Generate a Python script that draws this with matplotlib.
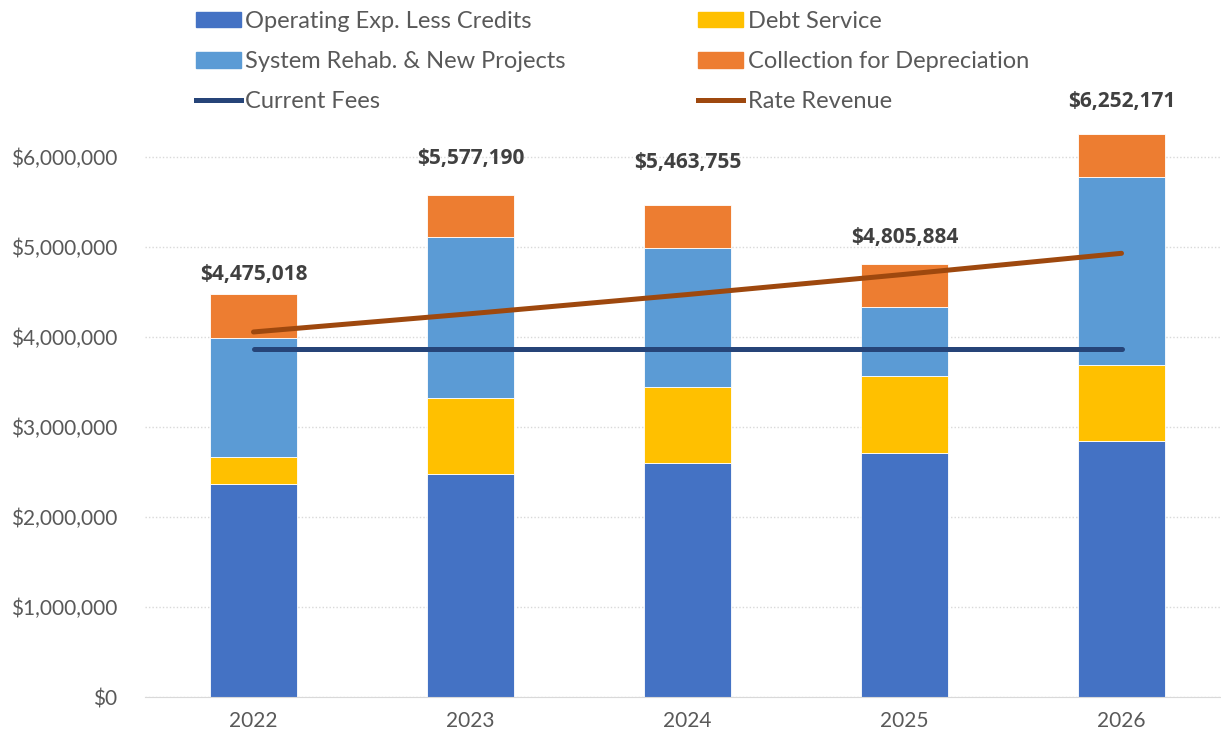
import matplotlib.pyplot as plt
from matplotlib.ticker import FuncFormatter
from matplotlib.patches import Patch
from matplotlib.lines import Line2D

years = ["2022", "2023", "2024", "2025", "2026"]
operating = [2367000, 2478000, 2600000, 2711000, 2844000]
debt = [300000, 844000, 844000, 856000, 845000]
rehab = [1323000, 1789000, 1545000, 766000, 2089000]
depreciation = [485018, 466190, 474755, 472884, 474171]
current_fees = [3862000, 3862000, 3862000, 3862000, 3862000]
rate_revenue = [4056000, 4259000, 4472000, 4696000, 4930000]

totals = [a + b + c + d for a, b, c, d in zip(operating, debt, rehab, depreciation)]
label_offsets = [7, 19, 23, 12, 16]  # points above each bar

plt.rcParams['font.family'] = ['Lato', 'DejaVu Sans']

c_op, c_debt, c_rehab, c_dep = "#4472C4", "#FFC000", "#5B9BD5", "#ED7D31"
c_fees, c_rate = "#264478", "#9E480E"
grey = "#595959"

fig = plt.figure(figsize=(12.21, 7.38), dpi=100)
ax = fig.add_axes([145 / 1221, 41 / 738, 1085 / 1221, 594 / 738])

x = range(len(years))
w = 0.40
bottom = [0] * len(years)
for vals, col in [(operating, c_op), (debt, c_debt), (rehab, c_rehab), (depreciation, c_dep)]:
    ax.bar(x, vals, w, bottom=bottom, color=col, edgecolor="white", linewidth=0.6, zorder=2)
    bottom = [b + v for b, v in zip(bottom, vals)]

ax.plot(x, current_fees, color=c_fees, lw=3.6, solid_capstyle="round", zorder=3)
ax.plot(x, rate_revenue, color=c_rate, lw=3.6, solid_capstyle="round", zorder=3)

for i, t in enumerate(totals):
    ax.annotate(f"${t:,.0f}", (i, t), xytext=(0, label_offsets[i]), textcoords="offset points",
                ha="center", va="bottom", fontsize=15, fontweight="bold", color="#404040",
                family=["Open Sans", "DejaVu Sans"], annotation_clip=False)

ax.set_xlim(-0.5, 4.5)
ax.set_ylim(0, 6600000)
ax.set_yticks(range(0, 6000001, 1000000))
ax.yaxis.set_major_formatter(FuncFormatter(lambda v, p: f"${v:,.0f}"))
ax.set_xticks(list(x))
ax.set_xticklabels(years)
ax.tick_params(axis="both", length=0, labelsize=15, colors=grey)
ax.tick_params(axis="y", pad=20)
ax.tick_params(axis="x", pad=10)
ax.grid(axis="y", color="#D9D9D9", linestyle=(0, (1, 1.5)), lw=1, zorder=0)
for s in ["top", "right", "left"]:
    ax.spines[s].set_visible(False)
ax.spines["bottom"].set_color("#D9D9D9")

handles = [
    Patch(color=c_op), Patch(color=c_rehab), Line2D([], [], color=c_fees, lw=3.6),
    Patch(color=c_debt), Patch(color=c_dep), Line2D([], [], color=c_rate, lw=3.6),
]
labels = ["Operating Exp. Less Credits", "System Rehab. & New Projects", "Current Fees",
          "Debt Service", "Collection for Depreciation", "Rate Revenue"]
leg = fig.legend(handles, labels, ncol=2, loc="upper left", bbox_to_anchor=(177 / 1221, 1.011),
                 frameon=False, fontsize=17, handlelength=1.9, handleheight=0.65,
                 handletextpad=0.2, columnspacing=5.6, labelspacing=0.82, borderpad=0.3)
for t in leg.get_texts():
    t.set_color(grey)

fig.savefig("out.png", dpi=100)
